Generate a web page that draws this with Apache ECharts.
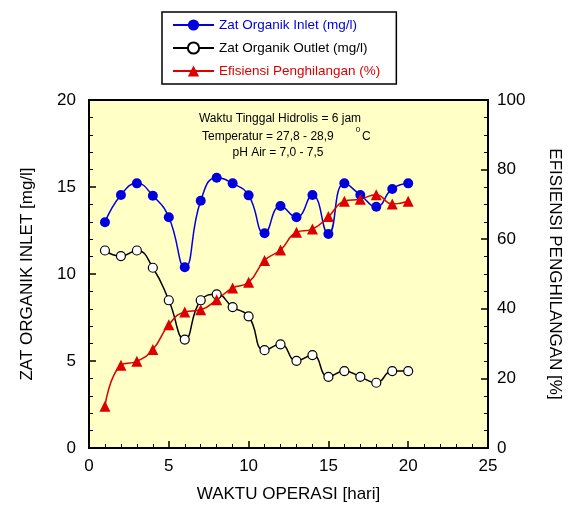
<!DOCTYPE html>
<html>
<head>
<meta charset="utf-8">
<script src="https://cdn.jsdelivr.net/npm/echarts@6/dist/echarts.min.js"></script>
<style>html,body{margin:0;padding:0;background:#fff;}#c{width:571px;height:508px;}</style>
</head>
<body>
<div id="c"></div>
<script>
const days = [1,2,3,4,5,6,7,8,9,10,11,12,13,14,15,16,17,18,19,20];
const inlet = [12.97,14.54,15.21,14.50,13.26,10.39,14.21,15.53,15.21,14.52,12.34,13.91,13.26,14.54,12.30,15.21,14.54,13.87,14.89,15.21];
const outlet = [11.35,11.03,11.35,10.36,8.49,6.23,8.49,8.83,8.10,7.57,5.62,5.96,5.01,5.34,4.09,4.42,4.09,3.75,4.42,4.42];
const efisiensi = [12.0,23.8,24.9,28.3,35.4,39.1,39.7,42.6,46.0,47.6,53.9,56.9,62.0,62.9,66.5,70.9,71.5,72.8,70.1,70.9];
const seriesNames = ['Zat Organik Inlet (mg/l)','Zat Organik Outlet (mg/l)','Efisiensi Penghilangan (%)'];
const notes = ['Waktu Tinggal Hidrolis = 6 jam','Temperatur = 27,8 - 28,9','pH Air = 7,0 - 7,5'];

const FONT = '"Liberation Sans", Arial, sans-serif';
const BLUE = '#0000DD', RED = '#DD0000';
const chart = echarts.init(document.getElementById('c'), null, {renderer:'canvas'});
const pair = a => a.map((v,i)=>[days[i], v]);
const axisCommon = {
  axisLine:{show:true, lineStyle:{color:'#000', width:2}},
  axisTick:{show:true, inside:true, length:7, lineStyle:{color:'#000', width:1.5}},
  minorTick:{show:true, length:4, lineStyle:{color:'#000', width:1}},
  splitLine:{show:false},
  axisLabel:{color:'#000', fontSize:17, fontFamily:FONT},
  nameTextStyle:{color:'#000', fontSize:17, fontFamily:FONT}
};
chart.setOption({
  animation:false,
  backgroundColor:'#fff',
  grid:{left:89, right:80, top:100, bottom:60, show:true, backgroundColor:'#FFFFC6', borderColor:'#000', borderWidth:2},
  legend:{
    orient:'vertical', left:162, top:12,
    padding:[6,16,6,10], itemGap:9, itemWidth:41, itemHeight:14,
    borderColor:'#000', borderWidth:1.5, backgroundColor:'#fff',
    textStyle:{fontSize:13.5, fontFamily:FONT},
    data:[
      {name:seriesNames[0], textStyle:{color:BLUE}},
      {name:seriesNames[1], textStyle:{color:'#000'}},
      {name:seriesNames[2], textStyle:{color:RED}}
    ]
  },
  xAxis:Object.assign({}, axisCommon, {
    type:'value', min:0, max:25, interval:5,
    minorTick:Object.assign({}, axisCommon.minorTick, {splitNumber:5}),
    axisLabel:Object.assign({}, axisCommon.axisLabel, {margin:10}),
    name:'WAKTU OPERASI [hari]', nameLocation:'middle', nameGap:38
  }),
  yAxis:[
    Object.assign({}, axisCommon, {
      type:'value', min:0, max:20, interval:5, position:'left',
      minorTick:Object.assign({}, axisCommon.minorTick, {splitNumber:5}),
      axisLabel:Object.assign({}, axisCommon.axisLabel, {margin:13}),
      name:'ZAT ORGANIK INLET [mg/l]', nameLocation:'middle', nameGap:53
    }),
    Object.assign({}, axisCommon, {
      type:'value', min:0, max:100, interval:20, position:'right',
      minorTick:Object.assign({}, axisCommon.minorTick, {splitNumber:4}),
      axisLabel:Object.assign({}, axisCommon.axisLabel, {margin:9}),
      name:'EFISIENSI PENGHILANGAN [%]', nameLocation:'middle', nameGap:58, nameRotate:-90
    })
  ],
  graphic:[
    {type:'text', x:280, y:119, style:{text:notes[0], align:'center', verticalAlign:'middle', fontSize:12, fontFamily:FONT, fill:'#000'}},
    {type:'text', x:202, y:137, style:{text:notes[1], align:'left', verticalAlign:'middle', fontSize:12, fontFamily:FONT, fill:'#000'}},
    {type:'text', x:358, y:130, style:{text:'0', align:'center', verticalAlign:'middle', fontSize:8, fontFamily:FONT, fill:'#000'}},
    {type:'text', x:362, y:137, style:{text:'C', align:'left', verticalAlign:'middle', fontSize:12, fontFamily:FONT, fill:'#000'}},
    {type:'text', x:278, y:153, style:{text:notes[2], align:'center', verticalAlign:'middle', fontSize:12, fontFamily:FONT, fill:'#000'}}
  ],
  series:[
    {name:seriesNames[0], type:'line', yAxisIndex:0, data:pair(inlet), smooth:0.5,
      symbol:'circle', symbolSize:10, lineStyle:{color:BLUE, width:1.5}, itemStyle:{color:BLUE, borderColor:BLUE, borderWidth:0}},
    {name:seriesNames[1], type:'line', yAxisIndex:0, data:pair(outlet), smooth:0.5,
      symbol:'circle', symbolSize:9, lineStyle:{color:'#000', width:1.5}, itemStyle:{color:'#fff', borderColor:'#000', borderWidth:1.2}},
    {name:seriesNames[2], type:'line', yAxisIndex:1, data:pair(efisiensi), smooth:0.5,
      symbol:'triangle', symbolSize:11, lineStyle:{color:RED, width:1.5}, itemStyle:{color:RED, borderColor:RED, borderWidth:0}}
  ]
});
</script>
</body>
</html>
